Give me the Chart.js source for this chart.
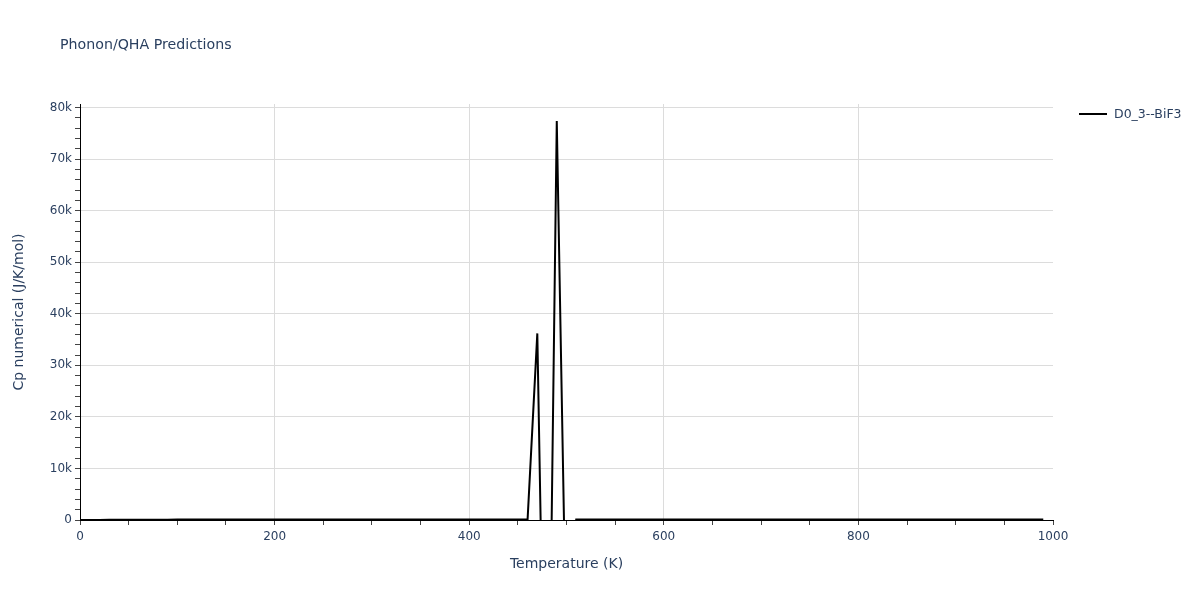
<!DOCTYPE html>
<html>
<head>
<meta charset="utf-8">
<title>Phonon/QHA Predictions</title>
<script src="https://cdn.jsdelivr.net/npm/chart.js@4.4.0/dist/chart.umd.min.js"></script>
<style>
    body { margin: 0; background: #fff; }
    #wrap { width: 1200px; height: 600px; }
</style>
</head>
<body>
<div id="wrap"><canvas id="cpChart" width="1200" height="600"></canvas></div>
<script>
// temperature grid (K)
const temps = [0,10,20,30,40,50,60,70,80,90,100,110,120,130,140,150,160,170,180,190,
    200,210,220,230,240,250,260,270,280,290,300,310,320,330,340,350,360,370,380,390,
    400,410,420,430,440,450,460,470,480,490,500,510,520,530,540,550,560,570,580,590,
    600,610,620,630,640,650,660,670,680,690,700,710,720,730,740,750,760,770,780,790,
    800,810,820,830,840,850,860,870,880,890,900,910,920,930,940,950,960,970,980,990];

// Cp numerical (J/K/mol), D0_3--BiF3
const cpValues = [0,3,14,28,40,50,57,63,67,71,74,76,78,79,81,82,83,84,84,85,
    86,86,87,87,87,88,88,88,89,89,89,89,90,90,90,90,90,91,91,91,
    91,91,92,92,92,93,95,36200,-70000,77400,-27000,98,93,93,93,93,93,93,93,93,
    93,94,94,94,94,94,94,94,94,94,94,94,94,94,94,94,94,94,94,94,
    94,94,94,94,94,94,94,94,94,94,94,94,94,94,94,94,94,94,94,94];

const seriesName = 'D0_3--BiF3';
const xTickLabels = [0, 200, 400, 600, 800, 1000];
const yTickLabels = [0, 10000, 20000, 30000, 40000, 50000, 60000, 70000, 80000];

const txt = '#2a3f5f';
const fontName = '"DejaVu Sans", Verdana, sans-serif';

const points = temps.map((t, i) => ({ x: t, y: cpValues[i] }));

// minor + major tick positions
function tickList(max, step) {
    let out = [];
    for (let v = 0; v <= max; v += step) out.push({ value: v });
    return out;
}

// title + legend drawn at fixed spots
const extras = {
    id: 'extras',
    afterDraw(chart) {
        const ctx = chart.ctx;
        ctx.save();
        ctx.fillStyle = txt;
        ctx.font = '14.2px ' + fontName;
        ctx.textBaseline = 'middle';
        ctx.fillText('Phonon/QHA Predictions', 60, 45.5);

        ctx.strokeStyle = '#000';
        ctx.lineWidth = 2;
        ctx.beginPath();
        ctx.moveTo(1079, 114);
        ctx.lineTo(1107, 114);
        ctx.stroke();
        ctx.font = '12.5px ' + fontName;
        ctx.fillText(seriesName, 1114, 114.5);
        ctx.restore();
    }
};

let cp = document.getElementById('cpChart').getContext('2d');
let chart = new Chart(cp, {
    type: 'line',
    data: {
        datasets: [{
            label: seriesName,
            data: points,
            borderColor: '#000',
            backgroundColor: '#000',
            borderWidth: 2,
            pointRadius: 0,
            tension: 0,
            clip: {left: 1, top: 1, right: 1, bottom: 1}
        }]
    },
    options: {
        responsive: false,
        animation: false,
        layout: {
            padding: { left: 0, right: 147, top: 104, bottom: 20 }
        },
        plugins: {
            legend: { display: false },
            title: { display: false },
            tooltip: { enabled: false }
        },
        scales: {
            x: {
                type: 'linear',
                min: 0,
                max: 1000,
                afterFit: (s) => { s.height = 60; },
                afterBuildTicks: (s) => { s.ticks = tickList(1000, 50); },
                ticks: {
                    autoSkip: false,
                    maxRotation: 0,
                    padding: 5,
                    color: txt,
                    font: { family: fontName, size: 12 },
                    callback: (v) => xTickLabels.includes(v) ? String(v) : ''
                },
                grid: {
                    color: (c) => (c.tick && c.tick.value % 200 === 0 && c.tick.value > 0 && c.tick.value < 1000) ? '#dcdcdc' : 'rgba(0,0,0,0)',
                    tickColor: '#444',
                    tickLength: 5,
                    drawTicks: true
                },
                border: { color: '#000', width: 1 },
                title: {
                    display: true,
                    text: 'Temperature (K)',
                    color: txt,
                    font: { family: fontName, size: 14 },
                    padding: { top: 0, bottom: 7 }
                }
            },
            y: {
                type: 'linear',
                min: 0,
                max: 80700,
                afterFit: (s) => { s.width = 80; },
                afterBuildTicks: (s) => { s.ticks = tickList(80000, 2000); },
                ticks: {
                    autoSkip: false,
                    padding: 3,
                    color: txt,
                    font: { family: fontName, size: 12 },
                    callback: (v) => yTickLabels.includes(v) ? (v === 0 ? '0' : (v / 1000) + 'k') : ''
                },
                grid: {
                    color: (c) => (c.tick && c.tick.value % 10000 === 0 && c.tick.value > 0) ? '#dcdcdc' : 'rgba(0,0,0,0)',
                    tickColor: '#444',
                    tickLength: 5,
                    drawTicks: true
                },
                border: { color: '#000', width: 1 },
                title: {
                    display: true,
                    text: 'Cp numerical (J/K/mol)',
                    color: txt,
                    font: { family: fontName, size: 14 },
                    padding: { top: 11, bottom: 0 }
                }
            }
        }
    },
    plugins: [extras]
});
</script>
</body>
</html>
